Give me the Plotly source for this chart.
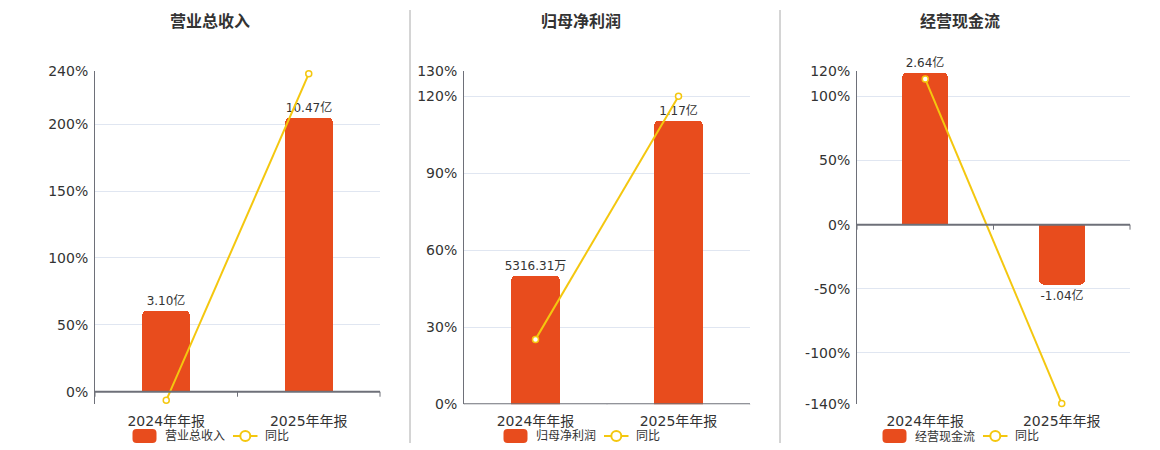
"""Trois graphiques barres + ligne (montant et variation annuelle)"""

import plotly.graph_objects as go

# DONNEES
categories = ["2024年年报", "2025年年报"]

revenue = [3.10, 10.47]                  # 亿
revenue_text = ["3.10亿", "10.47亿"]
revenue_yoy = [-6.4, 237.7]              # %

profit = [0.531631, 1.17]                # 亿
profit_text = ["5316.31万", "1.17亿"]
profit_yoy = [25.3, 120.08]

cashflow = [2.64, -1.04]                 # 亿
cashflow_text = ["2.64亿", "-1.04亿"]
cashflow_yoy = [113.5, -139.4]

titles = ["营业总收入", "归母净利润", "经营现金流"]
yoyName = "同比"

# CONSTANTES GRAPHIQUES
W, H = 1160, 450
barColor = "#E84C1D"
lineColor = "#F4C70F"
axisColor = "#6E7079"
gridColor = "#E0E6F1"
textColor = "#333333"
fontFamily = "DejaVu Sans, Noto Sans CJK SC, sans-serif"

# position des zones de trace (pixels)
plotTop, plotBottom = 70.7, 404.3
panels = [
    dict(x0=95, x1=380, center=210,
         pct_range=[-9.4, 240], pct_ticks=[-9.4, 0, 50, 100, 150, 200, 240],
         bar_range=[-0.482, 12.28]),
    dict(x0=464, x1=750, center=581,
         pct_range=[0, 130], pct_ticks=[0, 30, 60, 90, 120, 130],
         bar_range=[0, 1.374]),
    dict(x0=857, x1=1130, center=960,
         pct_range=[-140, 120], pct_ticks=[-140, -100, -50, 0, 50, 100, 120],
         bar_range=[-3.124, 2.677]),
]
series = [
    (revenue, revenue_text, revenue_yoy),
    (profit, profit_text, profit_yoy),
    (cashflow, cashflow_text, cashflow_yoy),
]


def fmt_pct(v):
    # pas d'etiquette pour la ligne du bas hors graduation
    if v != round(v):
        return ""
    return f"{int(v)}%"


def px(x):
    return x / W


def py(y):
    return 1 - y / H


def rounded_rect(x0, y0, x1, y1, r):
    """chemin SVG d'un rectangle arrondi en coordonnees paper"""
    rx, ry = r / W, r / H
    X0, X1, Y0, Y1 = px(x0), px(x1), py(y1), py(y0)
    return (f"M{X0 + rx},{Y0} L{X1 - rx},{Y0} Q{X1},{Y0} {X1},{Y0 + ry} "
            f"L{X1},{Y1 - ry} Q{X1},{Y1} {X1 - rx},{Y1} L{X0 + rx},{Y1} "
            f"Q{X0},{Y1} {X0},{Y1 - ry} L{X0},{Y0 + ry} Q{X0},{Y0} {X0 + rx},{Y0} Z")


fig = go.Figure()
layout = dict(
    width=W, height=H,
    margin=dict(l=0, r=0, t=0, b=0, autoexpand=False),
    paper_bgcolor="white", plot_bgcolor="white",
    font=dict(family=fontFamily, color=textColor, size=12),
    showlegend=False,
    bargap=0,
)
shapes = []
annotations = []

for i, (panel, (vals, labels, yoy), title) in enumerate(zip(panels, series, titles)):
    n = i + 1
    xname = "x" if n == 1 else f"x{n}"
    ybar = "y" if n == 1 else f"y{2 * n - 1}"
    ypct = f"y{2 * n}"

    xdom = [px(panel["x0"]), px(panel["x1"])]
    ydom = [py(plotBottom), py(plotTop)]

    # barres (axe cache)
    fig.add_trace(go.Bar(
        x=categories, y=vals, text=labels, name=title,
        xaxis=xname, yaxis=ybar,
        marker=dict(color=barColor, cornerradius=5, line=dict(width=0)),
        width=0.34, textposition="outside", cliponaxis=False,
        constraintext="none",
        textfont=dict(size=12, color=textColor),
        hoverinfo="skip",
    ))
    # ligne du taux de variation
    fig.add_trace(go.Scatter(
        x=categories, y=yoy, name=yoyName, mode="lines+markers",
        xaxis=xname, yaxis=ypct,
        line=dict(color=lineColor, width=2),
        marker=dict(symbol="circle", size=6, color="white",
                    line=dict(color=lineColor, width=1.5)),
        cliponaxis=False, hoverinfo="skip",
    ))

    layout[f"xaxis{'' if n == 1 else n}"] = dict(
        domain=xdom, anchor=ybar, type="category", range=[-0.5, 1.5],
        showgrid=False, showline=False, zeroline=False, ticks="",
        automargin=False, ticklabelstandoff=7,
        tickfont=dict(size=14, color=textColor), fixedrange=True,
    )
    layout[f"yaxis{'' if n == 1 else 2 * n - 1}"] = dict(
        domain=ydom, anchor=xname, range=panel["bar_range"],
        visible=False, showgrid=False, zeroline=False, fixedrange=True,
    )
    layout[f"yaxis{2 * n}"] = dict(
        domain=ydom, anchor=xname, overlaying=ybar, side="left",
        range=panel["pct_range"], tickmode="array",
        tickvals=panel["pct_ticks"],
        ticktext=[fmt_pct(v) for v in panel["pct_ticks"]],
        showgrid=True, gridcolor=gridColor, gridwidth=1,
        zeroline=False, showline=True, linecolor=axisColor, linewidth=1,
        ticks="", ticklabelstandoff=3, automargin=False,
        tickfont=dict(size=14, color=textColor), fixedrange=True,
    )

    # axe des categories a zero
    shapes.append(dict(type="line", xref=f"{xname} domain", yref=ypct,
                       x0=0, x1=1, y0=0, y1=0,
                       line=dict(color=axisColor, width=2), layer="above"))
    for xb in [0, 0.5, 1]:
        shapes.append(dict(type="line", xref=f"{xname} domain", yref=ypct,
                           ysizemode="pixel", yanchor=0,
                           x0=xb, x1=xb, y0=0, y1=-5,
                           line=dict(color=axisColor, width=1)))

    # titre
    annotations.append(dict(
        text=f"<b>{title}</b>", xref="paper", yref="paper",
        x=px(panel["center"]), y=py(22), xanchor="center", yanchor="middle",
        showarrow=False, font=dict(size=16, color=textColor),
    ))

    # legende dessinee a la main (pastille arrondie + ligne avec rond)
    lx = panel["center"] - 77.5
    ly = 436
    shapes.append(dict(type="path", xref="paper", yref="paper",
                       path=rounded_rect(lx, ly - 7, lx + 24, ly + 7, 4),
                       fillcolor=barColor, line=dict(width=0)))
    annotations.append(dict(
        text=title, xref="paper", yref="paper", x=px(lx + 30), y=py(ly),
        xanchor="left", yanchor="middle", showarrow=False,
        font=dict(size=12, color=textColor),
    ))
    shapes.append(dict(type="line", xref="paper", yref="paper",
                       x0=px(lx + 100.5), x1=px(lx + 125), y0=py(ly), y1=py(ly),
                       line=dict(color=lineColor, width=2)))
    shapes.append(dict(type="circle", xref="paper", yref="paper",
                       x0=px(lx + 107.8), x1=px(lx + 117.8),
                       y0=py(ly - 5), y1=py(ly + 5),
                       fillcolor="white", line=dict(color=lineColor, width=2)))
    annotations.append(dict(
        text=yoyName, xref="paper", yref="paper", x=px(lx + 130.5), y=py(ly),
        xanchor="left", yanchor="middle", showarrow=False,
        font=dict(size=12, color=textColor),
    ))

# separateurs verticaux
for xs in [410, 780]:
    shapes.append(dict(type="line", xref="paper", yref="paper",
                       x0=px(xs), x1=px(xs), y0=py(10), y1=py(443),
                       line=dict(color="#AAAAAA", width=1)))

layout["shapes"] = shapes
layout["annotations"] = annotations
fig.update_layout(**layout)

# page sans marge pour garder la taille exacte
fig.write_html("out.html", config=dict(displayModeBar=False),
               post_script="document.body.style.margin='0px';"
                           "document.body.style.overflow='hidden';")
